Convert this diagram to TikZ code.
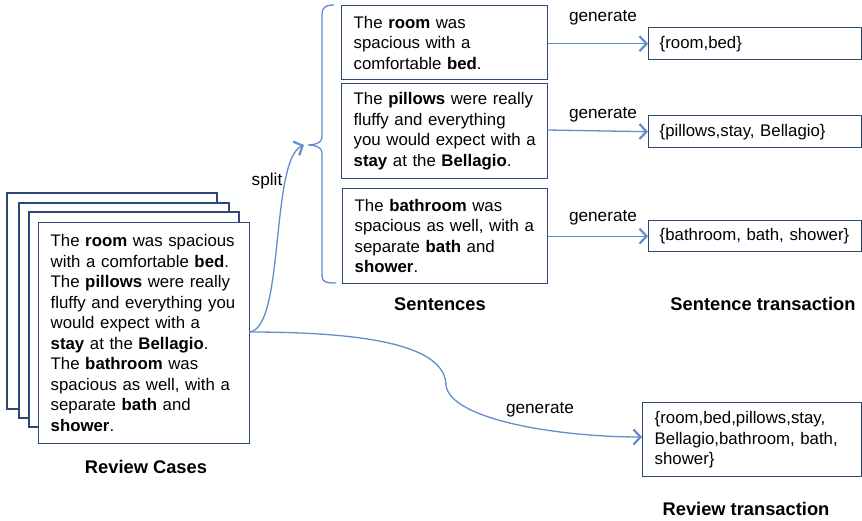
\documentclass[tikz,border=0pt]{standalone}
\usepackage{fontspec}
\setmainfont{Liberation Sans}
\usetikzlibrary{arrows.meta}

\definecolor{boxline}{RGB}{46,72,118}
\definecolor{flow}{RGB}{96,142,204}

\tikzset{
  body/.style={font=\fontsize{16.8}{20.5}\selectfont},
  card/.style={draw=boxline, line width=1.4pt, fill=white, anchor=north west,
    align=left, inner xsep=12pt, inner ysep=0pt, body},
  caption/.style={font=\fontsize{18.3}{22}\selectfont\bfseries},
  flowlabel/.style={font=\fontsize{17.2}{20}\selectfont},
  flowline/.style={draw=flow, line width=1.3pt},
  flowarrow/.style={flowline, -{Straight Barb[length=7pt,width=15pt,line width=2.2pt]}},
}

\begin{document}
\begin{tikzpicture}[x=1pt, y=-1pt]
\useasboundingbox (0,0) rectangle (862,521);

% stack of review cards behind the front one
\draw[boxline, line width=1.4pt, fill=white] (7,193) rectangle (217,409);
\draw[boxline, line width=1.4pt, fill=white] (19,203) rectangle (229,418);
\draw[boxline, line width=1.4pt, fill=white] (29,212) rectangle (239,427);

% front review card
\node[card, text width=187pt, minimum height=221pt] (review) at (38,222)
  {The \textbf{room} was spacious\\
   with a comfortable \textbf{bed}.\\
   The \textbf{pillows} were really\\
   fluffy and everything you\\
   would expect with a\\
   \textbf{stay} at the \textbf{Bellagio}.\\
   The \textbf{bathroom} was\\
   spacious as well, with a\\
   separate \textbf{bath} and\\
   \textbf{shower}.};
\node[caption] (reviewcap) at (146,467) {Review Cases};

% sentences
\node[card, text width=182pt, minimum height=74pt] (s1) at (341,5)
  {The \textbf{room} was\\
   spacious with a\\
   comfortable \textbf{bed}.};
\node[card, text width=182pt, minimum height=95pt] (s2) at (341,83)
  {The \textbf{pillows} were really\\
   fluffy and everything\\
   \mbox{you would expect with a}\\
   \textbf{stay} at the \textbf{Bellagio}.};
\node[card, text width=181pt, minimum height=95pt] (s3) at (342,188)
  {The \textbf{bathroom} was\\
   spacious as well, with a\\
   separate \textbf{bath} and\\
   \textbf{shower}.};
\node[caption] (sentcap) at (440,304) {Sentences};

% sentence transactions
\node[card, inner xsep=11pt, text width=191pt, minimum height=32pt] (t1) at (648,27)
  {\{room,bed\}};
\node[card, inner xsep=11pt, text width=191pt, minimum height=32pt] (t2) at (648,115)
  {\{pillows,stay, Bellagio\}};
\node[card, inner xsep=11pt, text width=191pt, minimum height=31pt] (t3) at (648,220)
  {\{bathroom, bath, shower\}};
\node[caption] (transcap) at (763,304) {Sentence transaction};

% review transaction
\node[card, text width=195pt, minimum height=74pt] (r) at (642,402)
  {\{room,bed,pillows,stay,\\
   Bellagio,bathroom, bath,\\
   shower\}};
\node[caption] (rcap) at (746,509) {Review transaction};

% brace grouping the sentences
\coordinate (bt) at (308,145);
\draw[flowline] (334,5) .. controls (325,5) and (322,8) .. (322,14)
  -- (322,137) .. controls (322,143) and (315,145) .. (bt)
  .. controls (315,145) and (322,147) .. (322,153)
  -- (322,276) .. controls (322,282) and (326,283) .. (336,283);

% split
\coordinate (rv) at (249,332);
\draw[flowarrow] (rv) .. controls (285,330) and (270,160) .. ([xshift=-4pt]bt);
\node[flowlabel] (splitlbl) at (267,181) {split};

% generate sentence transactions
\draw[flowarrow] (s1.east |- t1) -- (t1.west);
\draw[flowarrow] (547,130) -- (t2.west);
\draw[flowarrow] (s3.east |- t3) -- (t3.west);
\node[flowlabel] (g1) at (603,18) {generate};
\node[flowlabel] (g2) at (603,115) {generate};
\node[flowlabel] (g3) at (603,218) {generate};

% generate review transaction
\draw[flowarrow] (rv) .. controls (385,332) and (445,350) .. (446,385)
  .. controls (450,420) and (560,437) .. (r.west |- 0,437);
\node[flowlabel] (g4) at (540,410) {generate};
\end{tikzpicture}
\end{document}
